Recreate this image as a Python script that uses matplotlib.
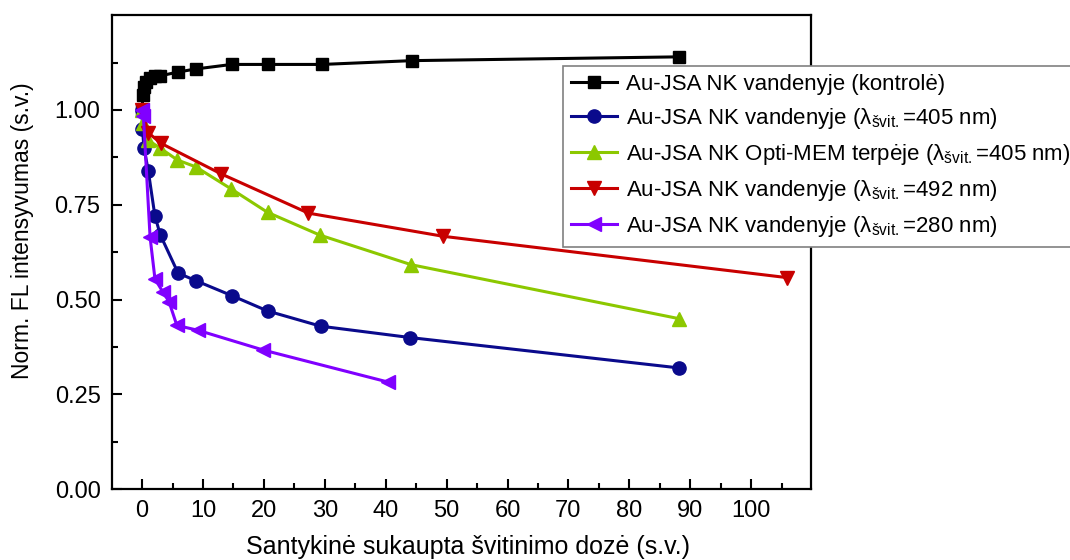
import matplotlib
matplotlib.use("Agg")
import matplotlib.pyplot as plt
from matplotlib.ticker import FixedLocator

plt.rcParams["font.family"] = ["Liberation Sans", "DejaVu Sans"]
plt.rcParams["mathtext.fontset"] = "custom"
plt.rcParams["mathtext.rm"] = "Liberation Sans"

# Control sample (no irradiation)
ctrl_x = [0, 0.1, 0.3, 0.7, 1.3, 2.1, 3.0, 5.9, 8.8, 14.7, 20.6, 29.6, 44.3, 88.2]
ctrl_y = [1.00, 1.04, 1.06, 1.075, 1.085, 1.09, 1.09, 1.10, 1.108, 1.12, 1.12, 1.12, 1.13, 1.14]

# Water, 405 nm
w405_x = [0, 0.05, 0.3, 1.0, 2.1, 3.0, 5.9, 8.8, 14.8, 20.6, 29.3, 44.0, 88.1]
w405_y = [1.00, 0.95, 0.90, 0.84, 0.72, 0.67, 0.57, 0.55, 0.51, 0.47, 0.43, 0.40, 0.32]

# Opti-MEM medium, 405 nm
mem405_x = [0, 0.1, 1.0, 2.9, 5.8, 8.8, 14.6, 20.6, 29.2, 44.2, 88.1]
mem405_y = [1.00, 0.965, 0.92, 0.90, 0.868, 0.85, 0.792, 0.73, 0.67, 0.592, 0.45]

# Water, 492 nm
w492_x = [0, 1.0, 3.1, 12.9, 27.3, 49.4, 105.9]
w492_y = [1.00, 0.94, 0.912, 0.832, 0.728, 0.667, 0.558]

# Water, 280 nm
w280_x = [0, 0.2, 1.3, 2.1, 3.4, 4.4, 5.7, 9.2, 19.9, 40.3]
w280_y = [1.00, 0.985, 0.665, 0.555, 0.52, 0.495, 0.432, 0.419, 0.367, 0.283]

labels = [
    "Au-JSA NK vandenyje (kontrolė)",
    r"Au-JSA NK vandenyje ($\mathregular{λ_{švit.}}$=405 nm)",
    r"Au-JSA NK Opti-MEM terpėje ($\mathregular{λ_{švit.}}$=405 nm)",
    r"Au-JSA NK vandenyje ($\mathregular{λ_{švit.}}$=492 nm)",
    r"Au-JSA NK vandenyje ($\mathregular{λ_{švit.}}$=280 nm)",
]

x_major = [0, 10, 20, 30, 40, 50, 60, 70, 80, 90, 100]
x_minor = [5, 15, 25, 35, 45, 55, 65, 75, 85, 95, 105]
y_major = [0.0, 0.25, 0.50, 0.75, 1.00]
y_minor = [0.125, 0.375, 0.625, 0.875, 1.125]

fig = plt.figure(figsize=(10.7, 5.6), dpi=100)
ax = fig.add_axes([0.1044, 0.1263, 0.6533, 0.8467])

series = [
    (ctrl_x, ctrl_y, "#000000", "s", 8),
    (w405_x, w405_y, "#0A0A8C", "o", 9.5),
    (mem405_x, mem405_y, "#8CC800", "^", 10),
    (w492_x, w492_y, "#C80000", "v", 10),
    (w280_x, w280_y, "#8000FF", "<", 10),
]

handles = []
for (xs, ys, color, mk, ms), lab in zip(series, labels):
    h, = ax.plot(xs, ys, color=color, marker=mk, markersize=ms, lw=2.2,
                 markeredgecolor=color, label=lab, clip_on=False)
    handles.append(h)

ax.set_xlim(-5, 109.8)
ax.set_ylim(0, 1.25)
ax.xaxis.set_major_locator(FixedLocator(x_major))
ax.xaxis.set_minor_locator(FixedLocator(x_minor))
ax.yaxis.set_major_locator(FixedLocator(y_major))
ax.yaxis.set_minor_locator(FixedLocator(y_minor))
ax.set_yticklabels([f"{v:.2f}" for v in y_major])

ax.tick_params(axis="both", which="major", direction="in", length=7, width=1.5,
               labelsize=17, top=False, right=False, pad=8)
ax.tick_params(axis="both", which="minor", direction="in", length=4, width=1.5,
               top=False, right=False)
for sp in ax.spines.values():
    sp.set_linewidth(1.6)

ax.set_xlabel("Santykinė sukaupta švitinimo dozė (s.v.)", fontsize=18)
ax.set_ylabel("Norm. FL intensyvumas (s.v.)", fontsize=16.5)
ax.xaxis.set_label_coords(0.51, -0.097)
ax.yaxis.set_label_coords(-0.111, 0.545)

leg = fig.legend(handles=handles, loc="upper left",
                 bbox_to_anchor=(563 / 1070, 1 - 66 / 560),
                 bbox_transform=fig.transFigure, borderaxespad=0,
                 fontsize=16, frameon=True, fancybox=False, framealpha=1,
                 edgecolor="#808080", handlelength=2.1, handletextpad=0.4,
                 labelspacing=0.5, borderpad=0.35)
leg.get_frame().set_linewidth(1.2)

fig.savefig("out.png", dpi=100)
